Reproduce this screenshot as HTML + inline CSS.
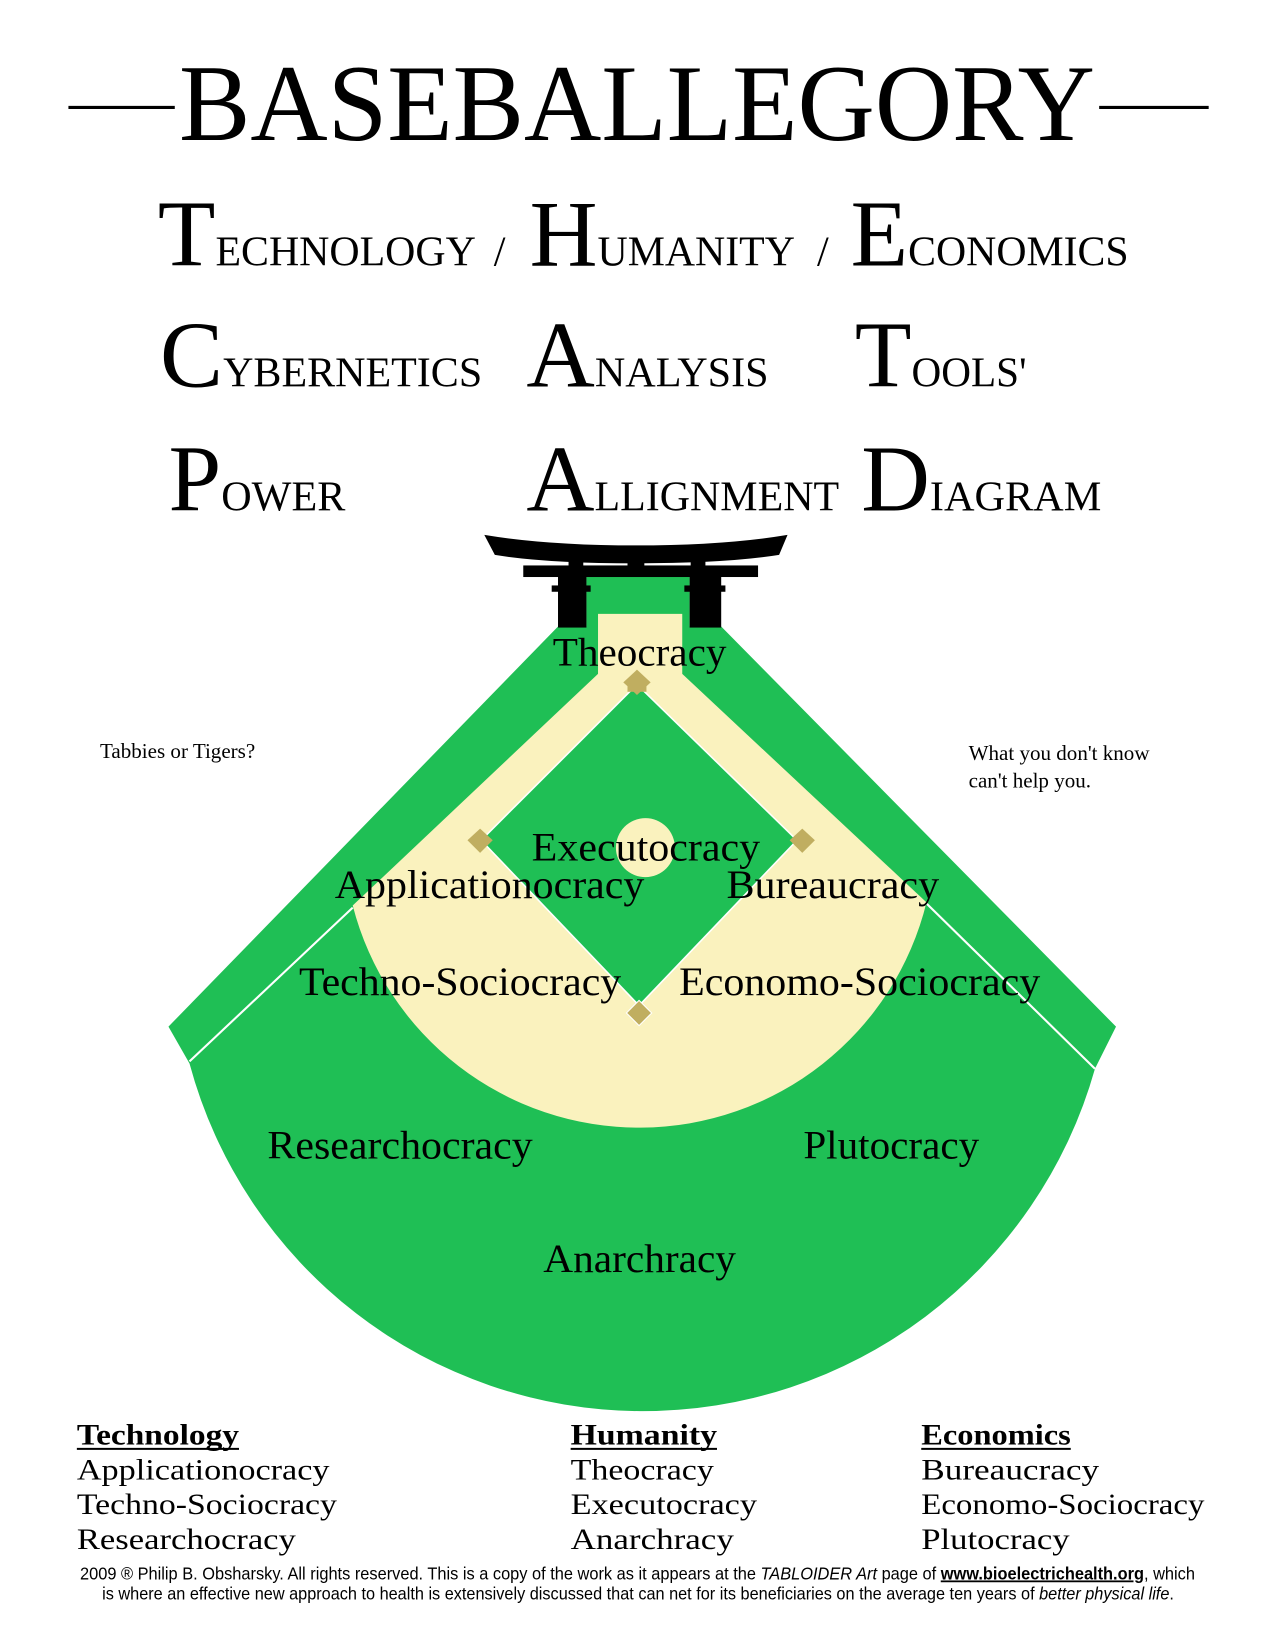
<!DOCTYPE html>
<html><head><meta charset="utf-8"><style>
html,body{margin:0;padding:0;background:#fff;}
svg{display:block;}
text{font-family:"Liberation Serif",serif;fill:#000;}
.s{font-family:"Liberation Sans",sans-serif;}
</style></head><body>
<svg width="1275" height="1650" viewBox="0 0 1211 1567" preserveAspectRatio="none" xmlns="http://www.w3.org/2000/svg">
<!-- Title -->
<line x1="65" y1="102" x2="166" y2="102" stroke="#000" stroke-width="3"/>
<line x1="1044" y1="102" x2="1148" y2="102" stroke="#000" stroke-width="3"/>
<text x="170" y="133" font-size="104" textLength="870" lengthAdjust="spacingAndGlyphs">BASEBALLEGORY</text>

<!-- Row 1 -->
<text x="150" y="252" textLength="302" lengthAdjust="spacingAndGlyphs"><tspan font-size="90">T</tspan><tspan font-size="40">ECHNOLOGY</tspan></text>
<text x="469" y="252" font-size="40">/</text>
<text x="503" y="252" textLength="252" lengthAdjust="spacingAndGlyphs"><tspan font-size="90">H</tspan><tspan font-size="40">UMANITY</tspan></text>
<text x="776" y="252" font-size="40">/</text>
<text x="808" y="252" textLength="264" lengthAdjust="spacingAndGlyphs"><tspan font-size="90">E</tspan><tspan font-size="40">CONOMICS</tspan></text>
<!-- Row 2 -->
<text x="152" y="367" textLength="306" lengthAdjust="spacingAndGlyphs"><tspan font-size="90">C</tspan><tspan font-size="40">YBERNETICS</tspan></text>
<text x="500" y="367" textLength="230" lengthAdjust="spacingAndGlyphs"><tspan font-size="90">A</tspan><tspan font-size="40">NALYSIS</tspan></text>
<text x="812" y="367" textLength="163" lengthAdjust="spacingAndGlyphs"><tspan font-size="90">T</tspan><tspan font-size="40">OOLS'</tspan></text>
<!-- Row 3 -->
<text x="160" y="485" textLength="168" lengthAdjust="spacingAndGlyphs"><tspan font-size="90">P</tspan><tspan font-size="40">OWER</tspan></text>
<text x="500" y="485" textLength="297" lengthAdjust="spacingAndGlyphs"><tspan font-size="90">A</tspan><tspan font-size="40">LLIGNMENT</tspan></text>
<text x="818" y="485" textLength="228" lengthAdjust="spacingAndGlyphs"><tspan font-size="90">D</tspan><tspan font-size="40">IAGRAM</tspan></text>

<!-- Field -->
<path d="M557,545 L655,545 L655,595 L685,595 L1060,975 L1040,1015 A446,446 0 0 1 180,1010 L160,975 L530,595 L557,595 Z" fill="#1fbf55"/>
<path d="M568,583 L648,583 L648,640 L880,857 A281,281 0 0 1 335,860 L568,640 Z" fill="#faf2be"/>
<polygon points="605,650 757,798 607,955 457,798" fill="#1fbf55" stroke="#fff" stroke-width="1.5"/>
<circle cx="613" cy="805" r="28" fill="#faf2be"/>
<line x1="335" y1="862" x2="180" y2="1008" stroke="#fff" stroke-width="2"/>
<line x1="880" y1="858" x2="1040" y2="1015" stroke="#fff" stroke-width="2"/>
<!-- bases -->
<polygon points="605,636 618,648 605,660 592,648" fill="#c0ae60"/>
<rect x="596" y="645" width="18" height="12" fill="#c0ae60"/>
<polygon points="456,787 468,798 456,810 444,798" fill="#c0ae60"/>
<polygon points="762,787 774,798 762,810 750,798" fill="#c0ae60"/>
<polygon points="607,950 619,962 607,974 595,962" fill="#c0ae60" stroke="#fff" stroke-width="1"/>

<!-- Torii -->
<path d="M460,508 Q520,518 604,518 Q688,518 748,508 L740,527 Q690,535 604,535 Q520,535 470,527 Z" fill="#000"/>
<rect x="497" y="537" width="223" height="11" fill="#000"/>
<rect x="540" y="525" width="14" height="13" fill="#000"/>
<rect x="596" y="525" width="16" height="13" fill="#000"/>
<rect x="656" y="525" width="14" height="13" fill="#000"/>
<rect x="530" y="546" width="27" height="50" fill="#000"/>
<rect x="655" y="546" width="30" height="50" fill="#000"/>
<rect x="524" y="556" width="37" height="6" fill="#000"/>
<rect x="650" y="556" width="39" height="6" fill="#000"/>

<!-- Field labels -->
<g font-size="38">
<text x="525" y="632" textLength="165" lengthAdjust="spacingAndGlyphs">Theocracy</text>
<text x="505" y="817" textLength="217" lengthAdjust="spacingAndGlyphs">Executocracy</text>
<text x="318" y="853" textLength="294" lengthAdjust="spacingAndGlyphs">Applicationocracy</text>
<text x="690" y="853" textLength="202" lengthAdjust="spacingAndGlyphs">Bureaucracy</text>
<text x="284" y="945" textLength="306" lengthAdjust="spacingAndGlyphs">Techno-Sociocracy</text>
<text x="645" y="945" textLength="343" lengthAdjust="spacingAndGlyphs">Economo-Sociocracy</text>
<text x="254" y="1100" textLength="252" lengthAdjust="spacingAndGlyphs">Researchocracy</text>
<text x="763" y="1100" textLength="167" lengthAdjust="spacingAndGlyphs">Plutocracy</text>
<text x="516" y="1208" textLength="183" lengthAdjust="spacingAndGlyphs">Anarchracy</text>
</g>
<text x="95" y="720" font-size="20">Tabbies or Tigers?</text>
<text x="920" y="722" font-size="20">What you don't know</text>
<text x="920" y="748" font-size="20">can't help you.</text>

<!-- Lists -->
<g font-size="28">
<text x="73" y="1372" font-weight="bold" textLength="154" lengthAdjust="spacingAndGlyphs">Technology</text>
<line x1="73" y1="1376" x2="227" y2="1376" stroke="#000" stroke-width="2"/>
<text x="73" y="1405" textLength="240" lengthAdjust="spacingAndGlyphs">Applicationocracy</text>
<text x="73" y="1438" textLength="247" lengthAdjust="spacingAndGlyphs">Techno-Sociocracy</text>
<text x="73" y="1471" textLength="208" lengthAdjust="spacingAndGlyphs">Researchocracy</text>
<text x="542" y="1372" font-weight="bold" textLength="139" lengthAdjust="spacingAndGlyphs">Humanity</text>
<line x1="542" y1="1376" x2="681" y2="1376" stroke="#000" stroke-width="2"/>
<text x="542" y="1405" textLength="136" lengthAdjust="spacingAndGlyphs">Theocracy</text>
<text x="542" y="1438" textLength="177" lengthAdjust="spacingAndGlyphs">Executocracy</text>
<text x="542" y="1471" textLength="155" lengthAdjust="spacingAndGlyphs">Anarchracy</text>
<text x="875" y="1372" font-weight="bold" textLength="142" lengthAdjust="spacingAndGlyphs">Economics</text>
<line x1="875" y1="1376" x2="1017" y2="1376" stroke="#000" stroke-width="2"/>
<text x="875" y="1405" textLength="169" lengthAdjust="spacingAndGlyphs">Bureaucracy</text>
<text x="875" y="1438" textLength="269" lengthAdjust="spacingAndGlyphs">Economo-Sociocracy</text>
<text x="875" y="1471" textLength="141" lengthAdjust="spacingAndGlyphs">Plutocracy</text>
</g>

<!-- Footer -->
<text class="s" x="76" y="1500" font-size="17" textLength="1059" lengthAdjust="spacingAndGlyphs">2009 ® Philip B. Obsharsky. All rights reserved. This is a copy of the work as it appears at the <tspan font-style="italic">TABLOIDER Art</tspan> page of <tspan font-weight="bold" text-decoration="underline">www.bioelectrichealth.org</tspan>, which</text>
<text class="s" x="97" y="1519" font-size="17" textLength="1018" lengthAdjust="spacingAndGlyphs">is where an effective new approach to health is extensively discussed that can net for its beneficiaries on the average ten years of <tspan font-style="italic">better physical life</tspan>.</text>
</svg>
</body></html>
